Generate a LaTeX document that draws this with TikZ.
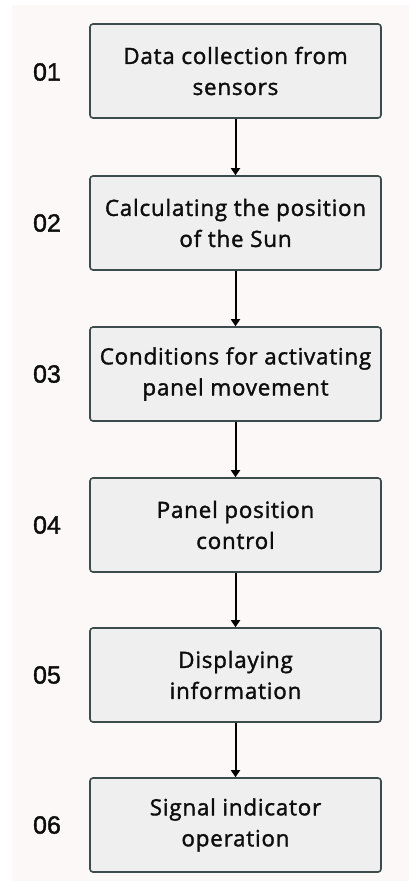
\documentclass[tikz,border=0pt]{standalone}
\usepackage{fontspec}
\setmainfont{Open Sans}[LetterSpace=3.5,FakeBold=1.6]
\newfontfamily\numfont{Liberation Sans}[FakeBold=1.5]
\usetikzlibrary{arrows.meta}
\definecolor{bgcol}{HTML}{FCF8F7}
\definecolor{boxfill}{HTML}{EFEFEF}
\definecolor{boxline}{HTML}{3C4C4C}
\definecolor{txt}{HTML}{0D0D0D}
\tikzset{
  stepbox/.style={draw=boxline, fill=boxfill, line width=1.6pt, rounded corners=3pt,
    minimum width=291pt, minimum height=94pt, align=center,
    inner sep=0pt, text=txt, font=\fontsize{22.4}{31}\selectfont},
  numlabel/.style={text=txt, inner sep=0pt, font=\numfont\fontsize{25}{25}\selectfont},
  flowarrow/.style={draw=black, line width=2pt, -{Triangle[width=9pt,length=7pt]}}
}
\begin{document}
\begin{tikzpicture}[x=1pt,y=-1pt]
\useasboundingbox (0,0) rectangle (409,881);
\fill[white] (0,0) rectangle (409,881);
\fill[bgcol] (12,5) rectangle (409,881);

\node[stepbox] (b1) at (235.5,71)  {Data collection from\\sensors};
\node[stepbox] (b2) at (235.5,223) {Calculating the position\\of the Sun};
\node[stepbox] (b3) at (235.5,374) {Conditions for activating\\panel movement};
\node[stepbox] (b4) at (235.5,525) {Panel position\\control};
\node[stepbox] (b5) at (235.5,675) {Displaying\\information};
\node[stepbox] (b6) at (235.5,825) {Signal indicator\\operation};

\node[numlabel] (n1) at (47,72)  {01};
\node[numlabel] (n2) at (47,223) {02};
\node[numlabel] (n3) at (47,374) {03};
\node[numlabel] (n4) at (47,525) {04};
\node[numlabel] (n5) at (47,675) {05};
\node[numlabel] (n6) at (47,825) {06};

\draw[flowarrow] (b1.south) -- (b2.north);
\draw[flowarrow] (b2.south) -- (b3.north);
\draw[flowarrow] (b3.south) -- (b4.north);
\draw[flowarrow] (b4.south) -- (b5.north);
\draw[flowarrow] (b5.south) -- (b6.north);
\end{tikzpicture}
\end{document}
